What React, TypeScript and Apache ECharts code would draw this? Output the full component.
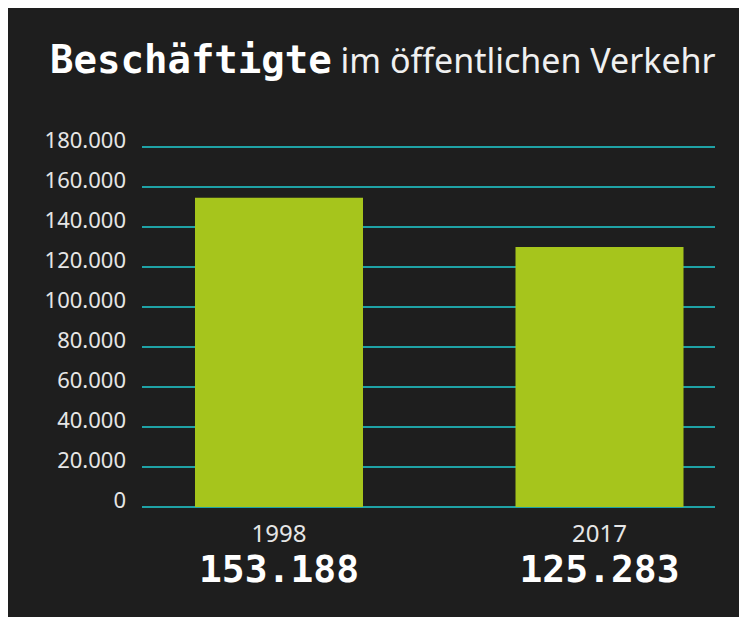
import React, { useEffect, useRef } from "react";
import * as echarts from "echarts";

const categories = ["1998", "2017"];
const barValues = [154600, 130000];
const valueLabels = ["153.188", "125.283"];
const yMin = 0;
const yMax = 180000;
const yInterval = 20000;

const titleBold = "Beschäftigte";
const titleRest = "im öffentlichen Verkehr";

const fmt = (v: number) =>
  String(v).replace(/\B(?=(\d{3})+(?!\d))/g, ".");

export default function App() {
  const ref = useRef<HTMLDivElement>(null);
  useEffect(() => {
    document.documentElement.style.overflow = "hidden";
    document.body.style.overflow = "hidden";
    const chart = echarts.init(ref.current!, null, { renderer: "svg" });
    chart.setOption({
      animation: false,
      backgroundColor: "#1e1e1e",
      title: {
        text: `{b|${titleBold}}{n| ${titleRest}}`,
        left: 42,
        top: 32,
        padding: 0,
        textStyle: {
          rich: {
            b: {
              fontFamily: "DejaVu Sans Mono",
              fontWeight: "bold",
              fontSize: 39,
              color: "#ffffff",
            },
            n: {
              fontFamily: "Noto Sans",
              fontWeight: "normal",
              fontSize: 34,
              color: "#f0f0f0",
            },
          },
        },
      },
      grid: { left: 134, width: 573, top: 139, height: 360 },
      xAxis: {
        type: "value",
        min: -0.42746,
        max: 1.36037,
        show: false,
        splitLine: { show: false },
      },
      yAxis: {
        type: "value",
        min: yMin,
        max: yMax,
        interval: yInterval,
        axisLine: { show: false },
        axisTick: { show: false },
        axisLabel: {
          margin: 16,
          fontFamily: "Noto Sans",
          fontSize: 22,
          lineHeight: 16,
          color: "#e6e6e6",
          verticalAlign: "bottom",
          formatter: (v: number) => (v === 0 ? "0" : fmt(v)),
        },
        splitLine: { lineStyle: { color: "#1fa2a6", width: 2 } },
      },
      series: [
        {
          type: "bar",
          data: barValues.map((v, i) => [i, v]),
          barWidth: 168,
          itemStyle: { color: "#a6c51c" },
          z: 5,
          label: {
            show: true,
            position: "bottom",
            distance: 10,
            formatter: (p: any) =>
              `{y|${categories[p.dataIndex]}}\n{v|${valueLabels[p.dataIndex]}}`,
            rich: {
              y: {
                fontFamily: "Noto Sans",
                fontSize: 24,
                color: "#e6e6e6",
                lineHeight: 30,
                align: "center",
              },
              v: {
                fontFamily: "DejaVu Sans Mono",
                fontWeight: "bold",
                fontSize: 38,
                color: "#ffffff",
                lineHeight: 44,
                align: "center",
              },
            },
          },
        },
      ],
    });
    return () => chart.dispose();
  }, []);
  return <div ref={ref} style={{ width: 739, height: 609 }} />;
}
